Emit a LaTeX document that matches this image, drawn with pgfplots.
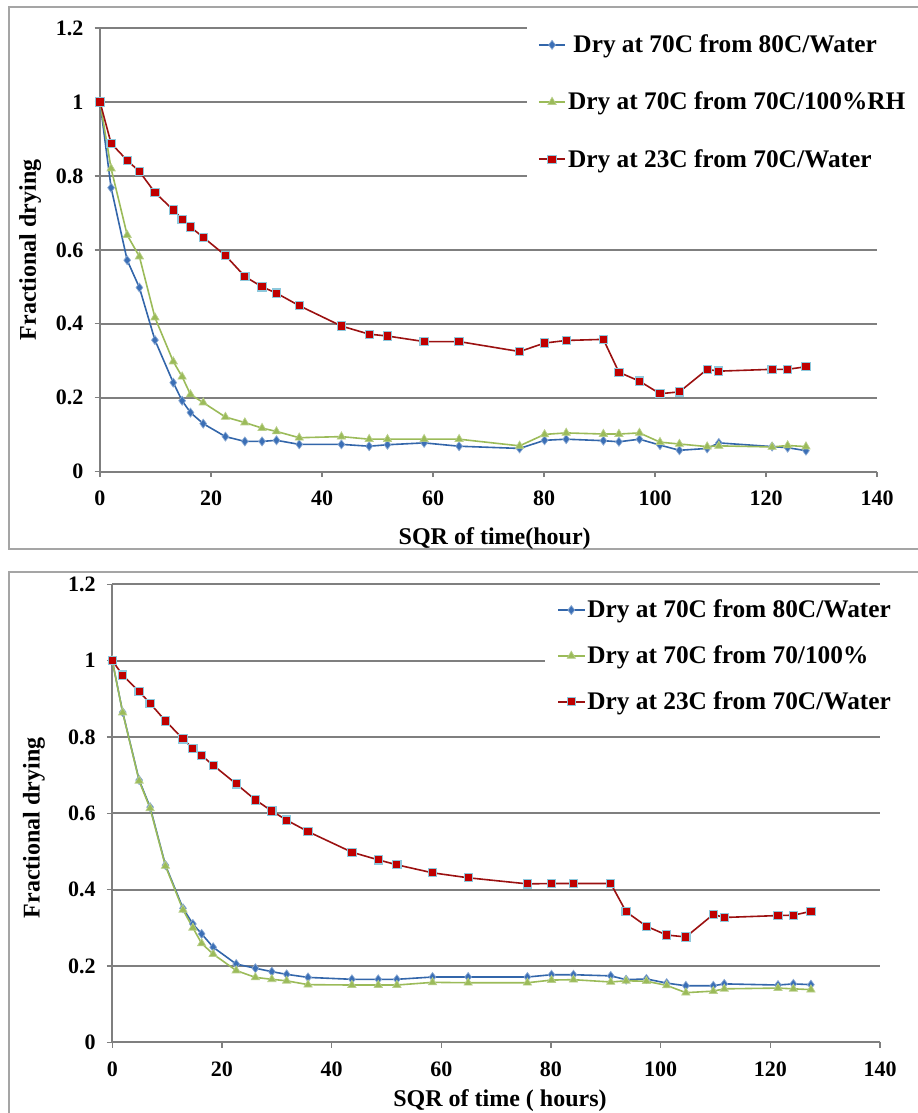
\documentclass[border=0pt]{standalone}
\usepackage{pgfplots}
\pgfplotsset{compat=1.18}
\usepackage{pgfplotstable}
\usepackage{fontspec}
\setmainfont{Liberation Serif}

\definecolor{bline}{HTML}{3366AA}
\definecolor{bmark}{HTML}{3B6FB6}
\definecolor{gline}{HTML}{9BBB59}
\definecolor{rline}{HTML}{9B1111}
\definecolor{rmark}{HTML}{C00000}
\definecolor{rborder}{HTML}{8EC8DC}
\definecolor{gridgray}{HTML}{7F7F7F}

% x = sqrt of time, then blue, green, red
\pgfplotstableread{
x     b     g     r
0     1     1     1
2.0   0.768 0.820 0.888
4.9   0.572 0.640 0.842
7.1   0.498 0.582 0.812
9.9   0.356 0.417 0.755
13.2  0.241 0.298 0.708
14.8  0.192 0.257 0.683
16.3  0.160 0.209 0.662
18.6  0.130 0.187 0.634
22.6  0.095 0.148 0.585
26.1  0.082 0.133 0.528
29.2  0.082 0.118 0.500
31.8  0.085 0.109 0.483
35.9  0.074 0.092 0.449
43.5  0.074 0.095 0.394
48.5  0.069 0.088 0.372
51.8  0.073 0.088 0.367
58.4  0.078 0.088 0.352
64.7  0.069 0.088 0.352
75.6  0.063 0.070 0.325
80.1  0.085 0.101 0.348
84.0  0.088 0.105 0.355
90.7  0.084 0.102 0.358
93.5  0.081 0.102 0.269
97.2  0.088 0.105 0.245
100.9 0.072 0.080 0.211
104.4 0.058 0.075 0.216
109.4 0.063 0.068 0.277
111.5 0.078 0.070 0.272
121.1 0.068 0.067 0.277
123.9 0.065 0.071 0.277
127.2 0.057 0.068 0.284
}\toptable

\pgfplotstableread{
x     b     g     r
0     1     1     1
1.9   0.865 0.864 0.962
4.9   0.687 0.685 0.919
6.9   0.616 0.613 0.888
9.7   0.464 0.462 0.842
12.9  0.351 0.347 0.795
14.7  0.310 0.300 0.770
16.3  0.284 0.259 0.751
18.4  0.249 0.231 0.726
22.6  0.205 0.188 0.677
26.1  0.194 0.170 0.635
29.1  0.185 0.165 0.606
31.8  0.178 0.161 0.582
35.7  0.170 0.151 0.552
43.7  0.165 0.150 0.498
48.5  0.165 0.150 0.478
51.9  0.165 0.150 0.465
58.4  0.171 0.157 0.444
64.9  0.171 0.156 0.431
75.7  0.171 0.156 0.415
80.1  0.177 0.163 0.416
84.1  0.177 0.164 0.416
90.9  0.174 0.158 0.416
93.7  0.164 0.161 0.342
97.4  0.166 0.160 0.304
101.1 0.155 0.149 0.281
104.6 0.148 0.130 0.276
109.6 0.148 0.134 0.335
111.6 0.153 0.140 0.327
121.4 0.150 0.142 0.332
124.2 0.153 0.140 0.333
127.4 0.151 0.138 0.343
}\bottable

\pgfplotsset{
  dry/.style={
    scale only axis,
    xmin=0, xmax=140, ymin=0, ymax=1.2,
    xtick={0,20,...,140}, ytick={0,0.2,...,1.2},
    axis lines=left, axis line style={-, gridgray, line width=1.4pt},
    ymajorgrids, grid style={gridgray, line width=1.4pt},
    tick align=outside, major tick length=4pt,
    tick style={gridgray, line width=1pt},
    /pgf/number format/assume math mode=true,
    tick label style={font=\bfseries\fontsize{16.5}{18}\selectfont},
    xticklabel style={yshift=-7pt},
    yticklabel style={xshift=-5pt},
    label style={font=\bfseries\fontsize{18}{20}\selectfont},
    legend cell align=left,
    legend image code/.code={\draw[mark repeat=2,mark phase=2] plot coordinates {(0cm,0cm) (0.35cm,0cm) (0.7cm,0cm)};},
    clip=false,
  },
  sb/.style={bline, line width=1.2pt, mark=diamond*, mark size=3.4pt, mark options={fill=bmark, draw=bmark!60!white, line width=0.5pt}},
  sg/.style={gline, line width=1.2pt, mark=triangle*, mark size=3.6pt, mark options={fill=gline, draw=gline!70!white, line width=0.5pt}},
  sr/.style={rline, line width=1.2pt, mark=square*, mark size=3.1pt, mark options={fill=rmark, draw=rborder, line width=0.8pt}},
}

\begin{document}
\begin{tikzpicture}
\useasboundingbox (0,0) rectangle (687.75pt,-834.75pt);
\draw[gridgray!70, line width=1.2pt] (6.75pt,-5.25pt) rectangle (700pt,-411.75pt);
\draw[gridgray!70, line width=1.2pt] (6.75pt,-429pt) rectangle (700pt,-850pt);

\begin{axis}[dry,
  at={(75pt,-353.8pt)}, anchor=south west,
  width=582.75pt, height=332.8pt,
  xlabel={SQR of time(hour)}, ylabel={Fractional drying},
  xlabel style={at={(axis description cs:0.508,-0.150)}, anchor=center},
  ylabel style={at={(axis description cs:-0.090,0.50)}, anchor=center, rotate=0},
  legend style={at={(axis description cs:0.5496,1.0135)}, anchor=north west,
    draw=none, fill=white, inner xsep=8pt, inner ysep=8pt, row sep=25pt,
    nodes={inner sep=1.5pt}, font=\bfseries\fontsize{19}{21}\selectfont},
]
\addplot[sb] table[x=x, y=b] {\toptable};
\addlegendentry{\hspace{4pt}Dry at 70C from 80C/Water}
\addplot[sg] table[x=x, y=g] {\toptable};
\addlegendentry{Dry at 70C from 70C/100\%RH}
\addplot[sr] table[x=x, y=r] {\toptable};
\addlegendentry{Dry at 23C from 70C/Water}
\end{axis}

\begin{axis}[dry,
  at={(84.2pt,-781.7pt)}, anchor=south west,
  width=575.8pt, height=343.5pt,
  xlabel={SQR of time ( hours)}, ylabel={Fractional drying},
  xlabel style={at={(axis description cs:0.505,-0.127)}, anchor=center},
  ylabel style={at={(axis description cs:-0.102,0.468)}, anchor=center, rotate=0},
  legend style={at={(axis description cs:0.5636,0.979)}, anchor=north west,
    draw=none, fill=white, inner xsep=9pt, inner ysep=3pt, row sep=16.5pt,
    nodes={inner sep=1.5pt}, font=\bfseries\fontsize{19}{21}\selectfont},
]
\addplot[sb] table[x=x, y=b] {\bottable};
\addlegendentry{Dry at 70C from 80C/Water}
\addplot[sg] table[x=x, y=g] {\bottable};
\addlegendentry{Dry at 70C from 70/100\%}
\addplot[sr] table[x=x, y=r] {\bottable};
\addlegendentry{Dry at 23C from 70C/Water}
\end{axis}
\end{tikzpicture}
\end{document}
